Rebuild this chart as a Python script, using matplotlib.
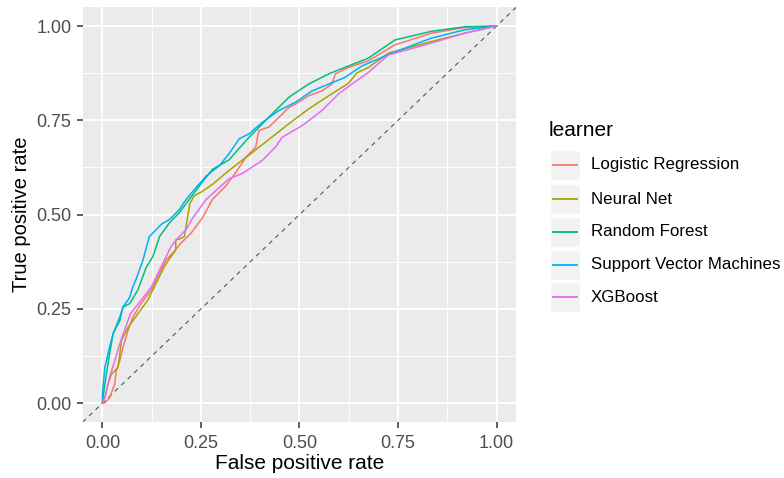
import matplotlib
matplotlib.use("Agg")
import matplotlib.pyplot as plt
from matplotlib.patches import Rectangle
from matplotlib.lines import Line2D

plt.rcParams['font.family'] = ['Liberation Sans', 'DejaVu Sans']

# ROC curves (false positive rate, true positive rate)
lr_fpr = [0, 0.006, 0.018, 0.031, 0.035, 0.044, 0.052, 0.065, 0.077, 0.098, 0.124, 0.14, 0.162,
          0.178, 0.199, 0.225, 0.254, 0.279, 0.313, 0.338, 0.364, 0.389, 0.397, 0.422, 0.448,
          0.473, 0.49, 0.523, 0.557, 0.582, 0.591, 0.624, 0.675, 0.742, 0.835, 0.919, 1.0]
lr_tpr = [0, 0.001, 0.014, 0.05, 0.086, 0.112, 0.148, 0.193, 0.228, 0.264, 0.3, 0.335, 0.38,
          0.398, 0.424, 0.451, 0.492, 0.54, 0.576, 0.611, 0.652, 0.679, 0.723, 0.732, 0.758,
          0.784, 0.793, 0.815, 0.828, 0.846, 0.873, 0.89, 0.908, 0.95, 0.981, 0.996, 1.0]

nn_fpr = [0, 0.006, 0.014, 0.023, 0.039, 0.044, 0.048, 0.065, 0.09, 0.115, 0.14, 0.157, 0.174,
          0.186, 0.186, 0.195, 0.208, 0.215, 0.222, 0.233, 0.254, 0.279, 0.321, 0.372, 0.422,
          0.473, 0.523, 0.574, 0.624, 0.646, 0.675, 0.725, 0.835, 0.919, 1.0]
nn_tpr = [0, 0.014, 0.05, 0.077, 0.094, 0.13, 0.166, 0.201, 0.237, 0.273, 0.326, 0.362, 0.389,
          0.406, 0.433, 0.435, 0.442, 0.487, 0.53, 0.55, 0.562, 0.58, 0.617, 0.658, 0.699,
          0.741, 0.78, 0.815, 0.848, 0.876, 0.89, 0.928, 0.959, 0.981, 1.0]

rf_fpr = [0, 0.006, 0.018, 0.027, 0.044, 0.052, 0.069, 0.09, 0.111, 0.128, 0.145, 0.17, 0.195,
          0.22, 0.246, 0.279, 0.321, 0.372, 0.422, 0.473, 0.523, 0.574, 0.624, 0.675, 0.742,
          0.835, 0.919, 1.0]
rf_tpr = [0, 0.05, 0.13, 0.184, 0.219, 0.255, 0.264, 0.3, 0.36, 0.389, 0.442, 0.478, 0.505,
          0.54, 0.576, 0.62, 0.645, 0.705, 0.758, 0.811, 0.846, 0.873, 0.894, 0.915, 0.963,
          0.986, 0.998, 1.0]

svm_fpr = [0, 0.0, 0.006, 0.018, 0.027, 0.044, 0.052, 0.069, 0.077, 0.086, 0.103, 0.119, 0.128,
           0.15, 0.17, 0.195, 0.212, 0.237, 0.263, 0.296, 0.321, 0.347, 0.372, 0.406, 0.448,
           0.49, 0.532, 0.574, 0.616, 0.658, 0.734, 0.835, 0.919, 1.0]
svm_tpr = [0, 0.024, 0.094, 0.148, 0.184, 0.228, 0.255, 0.28, 0.308, 0.33, 0.38, 0.442, 0.451,
           0.475, 0.487, 0.513, 0.54, 0.571, 0.602, 0.629, 0.661, 0.701, 0.714, 0.745, 0.776,
           0.798, 0.828, 0.846, 0.864, 0.894, 0.928, 0.968, 0.99, 1.0]

xgb_fpr = [0, 0.006, 0.018, 0.031, 0.044, 0.056, 0.071, 0.098, 0.124, 0.149, 0.174, 0.187,
           0.212, 0.229, 0.263, 0.321, 0.355, 0.406, 0.439, 0.456, 0.507, 0.557, 0.599, 0.633,
           0.675, 0.725, 0.835, 0.919, 1.0]
xgb_tpr = [0, 0.014, 0.068, 0.112, 0.157, 0.193, 0.237, 0.273, 0.308, 0.362, 0.415, 0.433,
           0.46, 0.491, 0.54, 0.595, 0.609, 0.644, 0.679, 0.705, 0.736, 0.776, 0.82, 0.846,
           0.877, 0.923, 0.955, 0.981, 1.0]

learners = ["Logistic Regression", "Neural Net", "Random Forest",
            "Support Vector Machines", "XGBoost"]
colors = ["#F8766D", "#A3A500", "#00BF7D", "#00B0F6", "#E76BF3"]
curves = [(lr_fpr, lr_tpr), (nn_fpr, nn_tpr), (rf_fpr, rf_tpr),
          (svm_fpr, svm_tpr), (xgb_fpr, xgb_tpr)]

ticks = [0, 0.25, 0.5, 0.75, 1.0]
tick_labels = ["0.00", "0.25", "0.50", "0.75", "1.00"]
minor = [0.125, 0.375, 0.625, 0.875]

fig = plt.figure(figsize=(7.84, 4.78), dpi=100)
ax = fig.add_axes([0.1055, 0.117, 0.553, 0.868])
ax.set_facecolor("#EBEBEB")
for s in ax.spines.values():
    s.set_visible(False)

ax.set_xlim(-0.05, 1.05)
ax.set_ylim(-0.05, 1.05)
ax.set_xticks(ticks)
ax.set_xticklabels(tick_labels)
ax.set_yticks(ticks)
ax.set_yticklabels(tick_labels)
ax.set_xticks(minor, minor=True)
ax.set_yticks(minor, minor=True)
ax.grid(which="major", color="white", linewidth=1.4)
ax.grid(which="minor", color="white", linewidth=0.7)
ax.set_axisbelow(True)
ax.tick_params(which="major", length=4, width=1.1, color="#333333",
               labelsize=13, labelcolor="#4D4D4D")
ax.tick_params(axis="x", pad=5)
ax.tick_params(axis="y", pad=4)
ax.tick_params(which="minor", length=0)

for (fx, ty), c in zip(curves, colors):
    ax.plot(fx, ty, color=c, linewidth=1.1, zorder=3)

ax.plot([-0.05, 1.05], [-0.05, 1.05], color="#555555", linestyle=(0, (4, 4)),
        linewidth=0.8, zorder=2)

ax.set_xlabel("False positive rate", fontsize=15, labelpad=2)
ax.set_ylabel("True positive rate", fontsize=14.5, labelpad=4)

# legend drawn by hand, ggplot style
W, H = 784.0, 478.0
fig.text(549 / W, 1 - 131 / H, "learner", fontsize=15, va="center", ha="left")
key_y = [165, 199, 232, 265, 297]
for name, c, yy in zip(learners, colors, key_y):
    fig.add_artist(Rectangle((550 / W, 1 - (yy + 15) / H), 30 / W, 30 / H,
                             transform=fig.transFigure, facecolor="#F2F2F2",
                             edgecolor="white", linewidth=1))
    fig.add_artist(Line2D([553 / W, 577 / W], [1 - yy / H, 1 - yy / H],
                          transform=fig.transFigure, color=c, linewidth=1.3))
    fig.text(591 / W, 1 - yy / H, name, fontsize=12.2, va="center", ha="left")

fig.savefig("out.png", dpi=100)
